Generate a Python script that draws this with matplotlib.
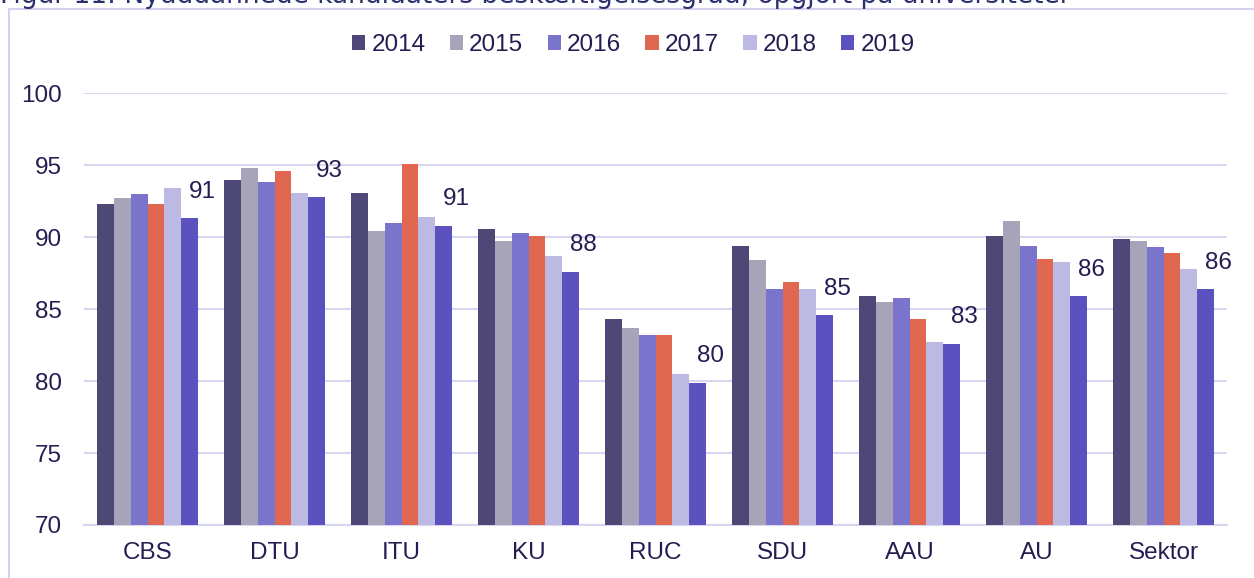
import matplotlib.pyplot as plt
import numpy as np
from matplotlib.patches import Rectangle

plt.rcParams['font.family'] = ['Liberation Sans', 'DejaVu Sans']

categories = ['CBS', 'DTU', 'ITU', 'KU', 'RUC', 'SDU', 'AAU', 'AU', 'Sektor']
years = ['2014', '2015', '2016', '2017', '2018', '2019']

v2014 = [92.3, 94.0, 93.1, 90.6, 84.3, 89.4, 85.9, 90.1, 89.9]
v2015 = [92.7, 94.8, 90.4, 89.7, 83.7, 88.4, 85.5, 91.1, 89.7]
v2016 = [93.0, 93.8, 91.0, 90.3, 83.2, 86.4, 85.8, 89.4, 89.3]
v2017 = [92.3, 94.6, 95.1, 90.1, 83.2, 86.9, 84.3, 88.5, 88.9]
v2018 = [93.4, 93.1, 91.4, 88.7, 80.5, 86.4, 82.7, 88.3, 87.8]
v2019 = [91.3, 92.8, 90.8, 87.6, 79.9, 84.6, 82.6, 85.9, 86.4]
series = [v2014, v2015, v2016, v2017, v2018, v2019]

colors = ['#4d4875', '#a7a3b9', '#7b74cc', '#e06750', '#bcb9e3', '#5b51bf']
text_color = '#231e52'
grid_color = '#d9d6f2'
fs = 17.5

fig = plt.figure(figsize=(12.54, 5.78), dpi=100)
ax = fig.add_axes([0.067, 0.0917, 0.9115, 0.747])

x = np.arange(len(categories))
w = 0.1326
for i, (vals, col, yr) in enumerate(zip(series, colors, years)):
    ax.bar(x + (i - 2.5) * w, np.array(vals) - 70, width=w, bottom=70,
           color=col, label=yr, zorder=3)

# labels on 2019 bars
for xi, v in zip(x, v2019):
    ax.annotate(f'{round(v):.0f}', (xi + 2.5 * w, v), xytext=(9, 11),
                textcoords='offset points', ha='center', va='bottom',
                fontsize=fs, color=text_color, zorder=4)

ax.set_ylim(70, 100)
ax.set_xlim(-0.5, len(categories) - 0.5)
ax.set_yticks(range(70, 101, 5))
ax.set_xticks(x)
ax.set_xticklabels(categories)
ax.yaxis.grid(True, color=grid_color, linewidth=1.5, zorder=0)
ax.set_axisbelow(True)
for s in ['top', 'right', 'left']:
    ax.spines[s].set_visible(False)
ax.spines['bottom'].set_color(grid_color)
ax.spines['bottom'].set_linewidth(1.5)
ax.tick_params(length=0, labelsize=fs, colors=text_color, pad=12)
ax.tick_params(axis='y', pad=16)

leg = fig.legend(loc='center', bbox_to_anchor=(0.505, 0.922), ncol=6,
                 frameon=False, fontsize=fs, handlelength=0.55,
                 handleheight=0.55, handletextpad=0.25, columnspacing=1.0)
for t in leg.get_texts():
    t.set_color(text_color)

# frame around chart
fig.patches.append(Rectangle((9 / 1254, -0.1), 1.2, 1.1 - 9 / 578,
                             transform=fig.transFigure, fill=False,
                             edgecolor='#d4d0f0', linewidth=1.5))

fig.text(0.0, 1 - 3 / 578, 'Figur 11: Nyuddannede kandidaters beskæftigelsesgrad, opgjort på universiteter',
         fontsize=19, color='#2b2f6e', va='baseline', ha='left',
         family='DejaVu Sans')

fig.savefig('out.png', dpi=100)
